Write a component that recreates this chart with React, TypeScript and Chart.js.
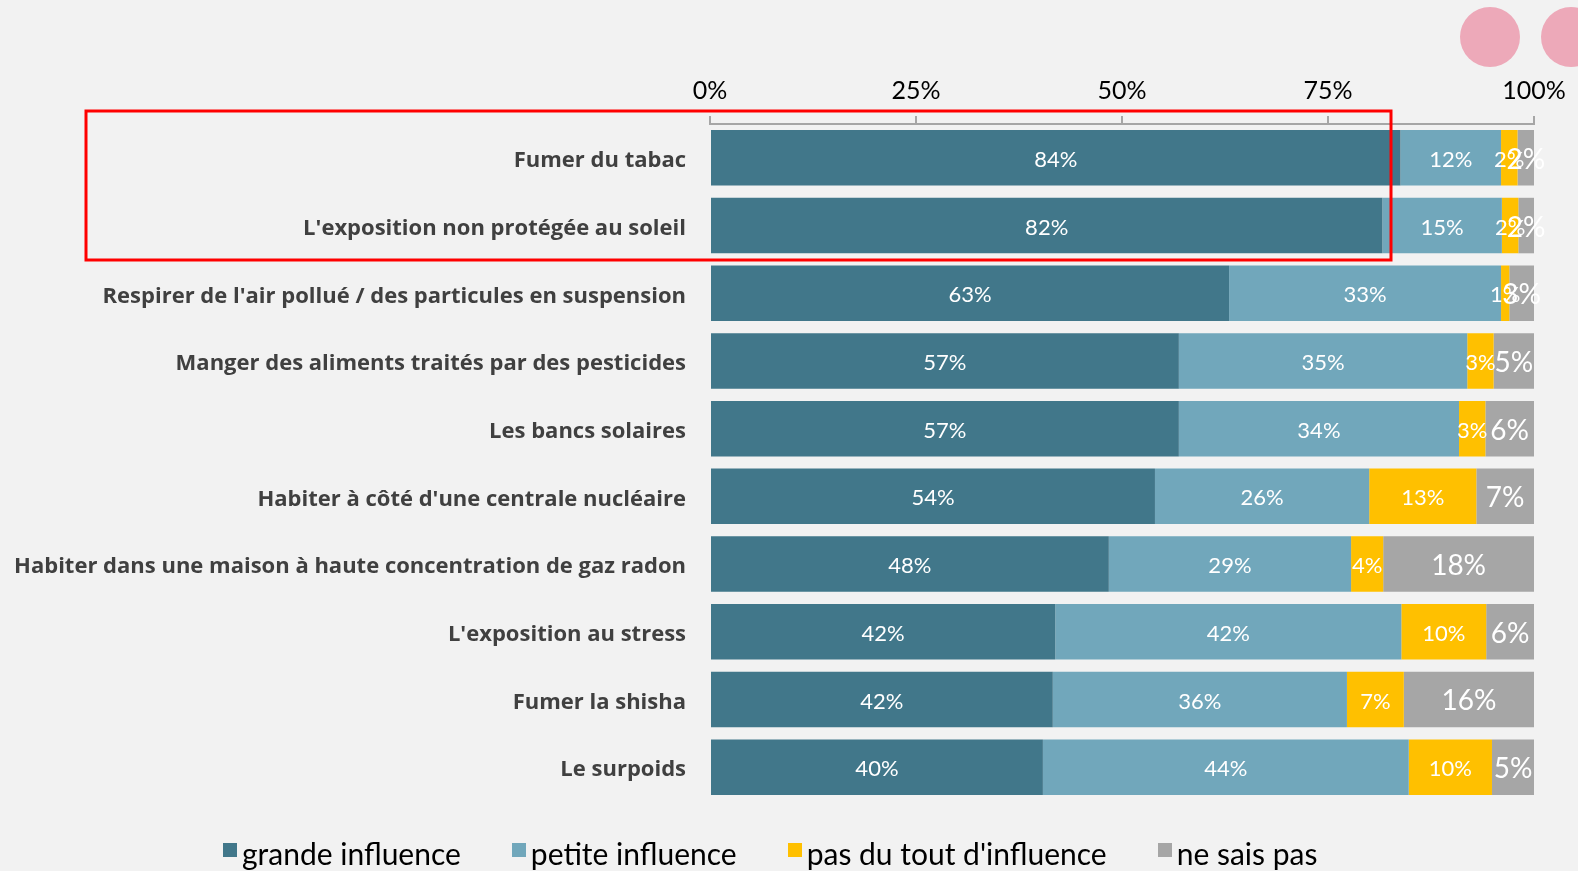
import React, { useEffect, useRef } from "react";
import { Chart, registerables } from "chart.js";

Chart.register(...registerables);

const categories = [
  "Fumer du tabac",
  "L'exposition non protégée au soleil",
  "Respirer de l'air pollué / des particules en suspension",
  "Manger des aliments traités par des pesticides",
  "Les bancs solaires",
  "Habiter à côté d'une centrale nucléaire",
  "Habiter dans une maison à haute concentration de gaz radon",
  "L'exposition au stress",
  "Fumer la shisha",
  "Le surpoids",
];

const seriesNames = ["grande influence", "petite influence", "pas du tout d'influence", "ne sais pas"];

const grandeInfluence = [83.8, 81.6, 63.0, 56.9, 56.9, 54.0, 48.4, 41.9, 41.6, 40.4];
const petiteInfluence = [12.2, 14.5, 33.0, 35.0, 34.0, 26.0, 29.4, 42.0, 35.7, 44.4];
const pasDuTout = [2.0, 2.0, 1.0, 3.2, 3.2, 13.0, 3.9, 10.3, 6.9, 10.1];
const neSaisPas = [2.0, 1.9, 3.0, 4.9, 5.9, 7.0, 18.3, 5.8, 15.8, 5.1];

const tickValues = [0, 25, 50, 75, 100];

const colors = ["#41778a", "#71a7bb", "#ffc000", "#a6a6a6"];

const FONT = "Lato, 'Open Sans', sans-serif";
const LABEL_FONT = "'Open Sans', Lato, sans-serif";

const labelPlugin = {
  id: "segLabels",
  afterDatasetsDraw(chart: any) {
    const ctx = chart.ctx;
    ctx.save();
    ctx.fillStyle = "#ffffff";
    ctx.textAlign = "center";
    ctx.textBaseline = "middle";
    chart.data.datasets.forEach((ds: any, i: number) => {
      const meta = chart.getDatasetMeta(i);
      ctx.font = (i === 3 ? "28px " : "22px ") + FONT;
      meta.data.forEach((el: any, j: number) => {
        const v = ds.data[j];
        const cx = (el.x + el.base) / 2;
        ctx.fillText(Math.round(v) + "%", cx, el.y + 2);
      });
    });
    ctx.restore();
  },
};

const decoPlugin = {
  id: "deco",
  afterDraw(chart: any) {
    const ctx = chart.ctx;
    ctx.save();
    ctx.fillStyle = "#eda9b9";
    ctx.beginPath();
    ctx.arc(1490, 37, 30, 0, Math.PI * 2);
    ctx.fill();
    ctx.beginPath();
    ctx.arc(1571, 37, 30, 0, Math.PI * 2);
    ctx.fill();
    ctx.strokeStyle = "#ff0000";
    ctx.lineWidth = 3;
    ctx.strokeRect(86, 111, 1305, 149);
    ctx.restore();
  },
};

export default function App() {
  const ref = useRef<HTMLCanvasElement | null>(null);
  useEffect(() => {
    document.body.style.margin = "0";
    document.body.style.background = "#f2f2f2";
    const values = [grandeInfluence, petiteInfluence, pasDuTout, neSaisPas];
    const chart = new Chart(ref.current as HTMLCanvasElement, {
      type: "bar",
      data: {
        labels: categories,
        datasets: seriesNames.map((name, i) => ({
          label: name,
          data: values[i],
          backgroundColor: colors[i],
          borderWidth: 0,
          barPercentage: 0.82,
          categoryPercentage: 1,
        })),
      },
      options: {
        indexAxis: "y",
        responsive: false,
        animation: false,
        layout: { padding: { top: 60, right: 44, bottom: 70, left: 0 } },
        plugins: {
          legend: { display: false },
          tooltip: { enabled: false },
        },
        scales: {
          x: {
            position: "top",
            stacked: true,
            min: 0,
            max: 100,
            afterBuildTicks(scale: any) {
              scale.ticks = tickValues.map((v) => ({ value: v }));
            },
            ticks: {
              color: "#000000",
              font: { family: FONT, size: 25 },
              padding: 10,
              callback: (v: any) => v + "%",
              maxRotation: 0,
            },
            grid: { drawOnChartArea: false, tickLength: 8, color: "#a6a6a6", lineWidth: 2 },
            border: { color: "#a6a6a6", width: 2 },
            afterFit(scale: any) {
              scale.height = 64;
            },
          },
          y: {
            stacked: true,
            grid: { display: false, drawTicks: false },
            border: { display: false },
            ticks: {
              color: "#404040",
              font: { family: LABEL_FONT, size: 22, weight: "bold" },
              padding: 24,
              labelOffset: 3,
            },
            afterFit(scale: any) {
              scale.width = 710;
            },
          },
        },
      } as any,
      plugins: [labelPlugin, decoPlugin],
    });
    return () => chart.destroy();
  }, []);
  return (
    <div style={{ position: "fixed", left: 0, top: 0, width: 1578, height: 871, background: "#f2f2f2" }}>
      <canvas ref={ref} width={1578} height={871} style={{ width: 1578, height: 871, display: "block" }} />
      <div
        style={{
          position: "absolute",
          left: 223,
          top: 834,
          display: "flex",
          alignItems: "center",
          fontFamily: FONT,
          fontSize: 30,
          color: "#000",
          lineHeight: "38px",
          whiteSpace: "nowrap",
        }}
      >
        {seriesNames.map((name, i) => (
          <div key={name} style={{ display: "flex", alignItems: "center", marginRight: i < 3 ? 51 : 0 }}>
            <span style={{ display: "inline-block", width: 14, height: 14, background: colors[i], marginRight: 5, marginTop: -6 }} />
            <span>{name}</span>
          </div>
        ))}
      </div>
    </div>
  );
}
